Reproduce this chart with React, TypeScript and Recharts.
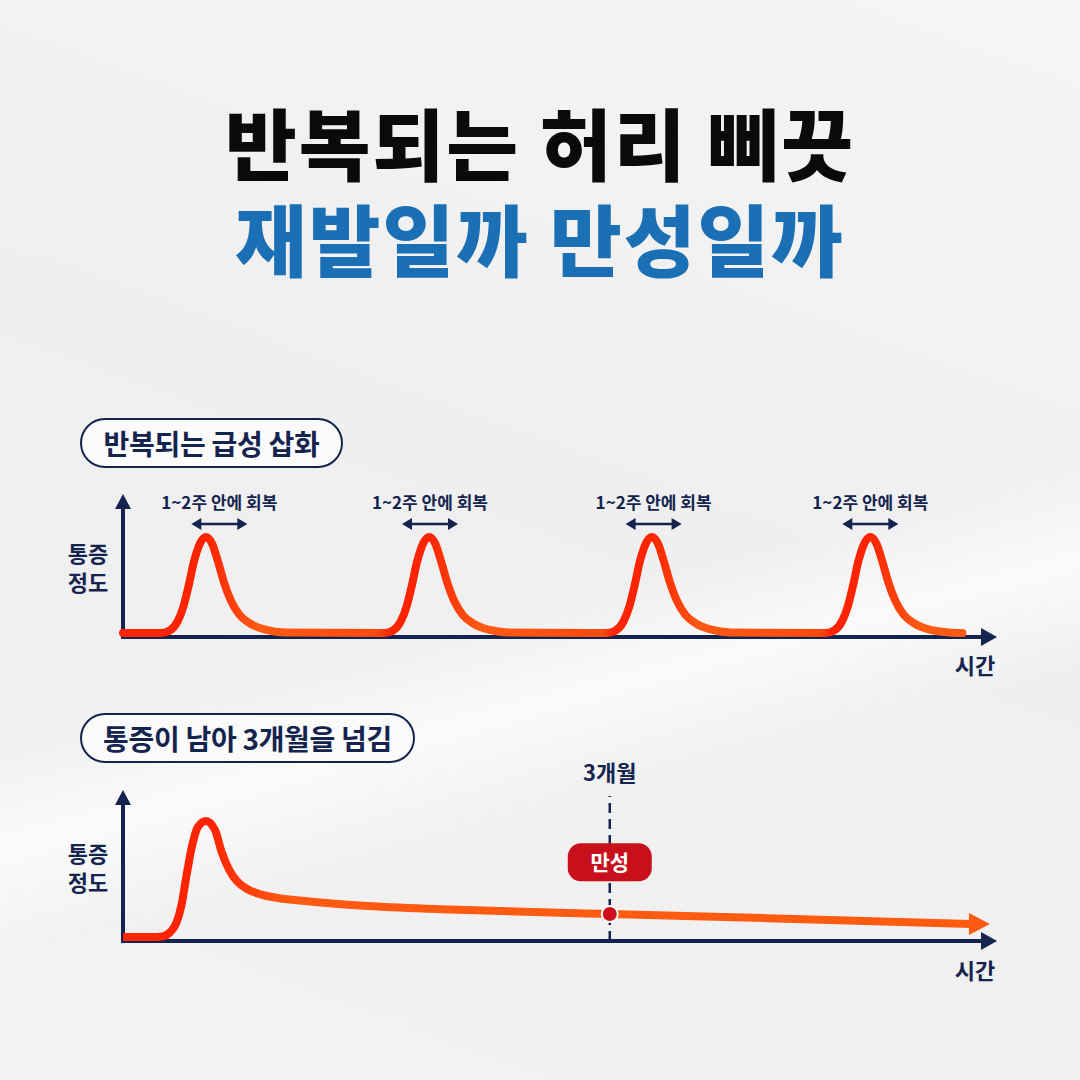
import { LineChart, Line, XAxis, YAxis, ReferenceDot, ReferenceLine } from "recharts";

const NAVY = "#15244f";
const RED = "#ff2400";
const ORANGE = "#ff5a14";
const FONT = "'Noto Sans CJK KR', 'Noto Sans', sans-serif";

// repeated acute flare-ups (time 0..100, pain 0..100)
const acuteT = [
  0,
  4.45, 5.45, 6.35, 7.05, 7.65, 8.25, 8.95, 9.65, 10.35, 11.05, 11.75, 12.55, 13.55, 14.75, 16.55, 18.85,
  30.4, 31.4, 32.3, 33.0, 33.6, 34.2, 34.9, 35.6, 36.3, 37.0, 37.7, 38.5, 39.5, 40.7, 42.5, 44.8,
  56.3, 57.3, 58.2, 58.9, 59.5, 60.1, 60.8, 61.5, 62.2, 62.9, 63.6, 64.4, 65.4, 66.6, 68.4, 70.7,
  81.7, 82.7, 83.6, 84.3, 84.9, 85.5, 86.2, 86.9, 87.6, 88.3, 89.0, 89.8, 90.8, 92.0, 93.8, 96.1,
  97.6,
];
const acutePain = [
  3,
  3, 5, 12, 24, 40, 58, 72, 77, 72, 58, 42, 28, 17, 10.5, 5.6, 3.5,
  3, 5, 12, 24, 40, 58, 72, 77, 72, 58, 42, 28, 17, 10.5, 5.6, 3.5,
  3, 5, 12, 24, 40, 58, 72, 77, 72, 58, 42, 28, 17, 10.5, 5.6, 3.5,
  3, 5, 12, 24, 40, 58, 72, 77, 72, 58, 42, 28, 17, 10.5, 5.6, 3.5,
  3,
];
const recoveryMarks = [11.2, 35.7, 61.7, 86.9];
const recoveryLabel = "1~2주 안에 회복";

// pain that stays past 3 months
const chronicT = [
  0, 3.4, 4.6, 5.5, 6.2, 6.8, 7.4, 8.0, 8.7, 9.65, 10.7, 11.5, 12.4, 13.3, 14.5, 16, 18, 20.5, 24, 29,
  38, 50.8, 56.6, 75, 98.6,
];
const chronicPain = [
  2.9, 2.9, 3.3, 6.5, 13, 26, 48, 68, 82.6, 87, 80.4, 64, 51, 43, 37.5, 33.8, 31.2, 29.3, 27.3, 25.2,
  22.8, 20.4, 19.6, 16.5, 12.3,
];
const chronicPoint = { t: 56.6, pain: 19.6 };
const chronicMonthLabel = "3개월";
const chronicBadge = "만성";

const titleLines = ["반복되는 허리 삐끗", "재발일까 만성일까"];
const panelTitles = ["반복되는 급성 삽화", "통증이 남아 3개월을 넘김"];
const yLabel = ["통증", "정도"];
const xLabel = "시간";

const acuteData = acuteT.map((t, i) => ({ t, pain: acutePain[i] }));
const chronicData = chronicT.map((t, i) => ({ t, pain: chronicPain[i] }));

const XArrow = (p: any) => (
  <polygon points={`${p.cx - 2},${p.cy - 9} ${p.cx + 14},${p.cy} ${p.cx - 2},${p.cy + 9}`} fill={NAVY} />
);
const YArrow = (p: any) => (
  <polygon points={`${p.cx - 8},${p.cy + 2} ${p.cx},${p.cy - 13} ${p.cx + 8},${p.cy + 2}`} fill={NAVY} />
);

const RecoveryMark = (p: any) => {
  const { cx, cy } = p;
  return (
    <g>
      <text x={cx} y={cy - 15} textAnchor="middle" fontSize={17} fontWeight={700} fill={NAVY}>
        {recoveryLabel}
      </text>
      <line x1={cx - 20} x2={cx + 20} y1={cy} y2={cy} stroke={NAVY} strokeWidth={2.5} />
      <polygon points={`${cx - 28},${cy} ${cx - 18},${cy - 6} ${cx - 18},${cy + 6}`} fill={NAVY} />
      <polygon points={`${cx + 28},${cy} ${cx + 18},${cy - 6} ${cx + 18},${cy + 6}`} fill={NAVY} />
    </g>
  );
};

const MonthLabel = (p: any) => (
  <text x={p.cx} y={p.cy + 8} textAnchor="middle" fontSize={22} fontWeight={700} fill={NAVY}>
    {chronicMonthLabel}
  </text>
);

const Badge = (p: any) => (
  <g>
    <rect x={p.cx - 42} y={p.cy - 19} width={84} height={38} rx={13} fill="#c8101d" />
    <text x={p.cx} y={p.cy + 8} textAnchor="middle" fontSize={21} fontWeight={700} fill="#ffffff">
      {chronicBadge}
    </text>
  </g>
);

const LineArrow = (p: any) => (
  <polygon points={`${p.cx - 2},${p.cy - 11} ${p.cx + 19},${p.cy} ${p.cx - 2},${p.cy + 11}`} fill={ORANGE} />
);

const Pill = ({ text, left, top, width }: { text: string; left: number; top: number; width: number }) => (
  <div
    style={{
      position: "absolute",
      left,
      top,
      width,
      height: 50,
      boxSizing: "border-box",
      border: `2.5px solid ${NAVY}`,
      borderRadius: 25,
      background: "#fbfbfc",
      display: "flex",
      alignItems: "center",
      justifyContent: "center",
      fontSize: 28,
      fontWeight: 700,
      color: NAVY,
      letterSpacing: -0.3,
    }}
  >
    {text}
  </div>
);

const AxisText = ({ left, top, lines }: { left: number; top: number; lines: string[] }) => (
  <div
    style={{
      position: "absolute",
      left,
      top,
      width: 60,
      textAlign: "center",
      fontSize: 22,
      fontWeight: 600,
      lineHeight: "29px",
      color: NAVY,
    }}
  >
    {lines.map((l) => (
      <div key={l}>{l}</div>
    ))}
  </div>
);

export default function App() {
  return (
    <div
      style={{
        position: "absolute",
        left: 0,
        top: 0,
        width: 1080,
        height: 1080,
        overflow: "hidden",
        fontFamily: FONT,
        background:
          "linear-gradient(165deg, rgba(255,255,255,0) 55%, rgba(255,255,255,0.7) 62%, rgba(255,255,255,0) 70%), linear-gradient(200deg, #f5f5f6 0%, #efeff0 45%, #f2f2f3 100%)",
      }}
    >
      {titleLines.map((t, i) => (
        <div
          key={t}
          style={{
            position: "absolute",
            left: 0,
            top: i === 0 ? 96 : 192,
            width: 1080,
            textAlign: "center",
            fontSize: 78,
            lineHeight: "90px",
            fontWeight: 900,
            letterSpacing: 2,
            color: i === 0 ? "#0a0a0a" : "#1a6fb5",
          }}
        >
          {t}
        </div>
      ))}

      <Pill text={panelTitles[0]} left={80} top={418} width={263} />
      <Pill text={panelTitles[1]} left={80} top={713} width={335} />

      <AxisText left={58} top={538} lines={yLabel} />
      <AxisText left={58} top={838} lines={yLabel} />
      <AxisText left={945} top={650} lines={[xLabel]} />
      <AxisText left={945} top={955} lines={[xLabel]} />

      <div style={{ position: "absolute", left: 0, top: 470 }}>
        <LineChart width={1080} height={200} data={acuteData} margin={{ top: 37, right: 97, bottom: 33, left: 123 }}>
          <defs>
            <linearGradient id="acuteGrad" gradientUnits="userSpaceOnUse" x1={123} y1={0} x2={962} y2={0}>
              <stop offset="0" stopColor={RED} />
              <stop offset="0.1" stopColor={RED} />
              <stop offset="0.16" stopColor={ORANGE} />
              <stop offset="0.3" stopColor="#ff4a10" />
              <stop offset="0.32" stopColor={RED} />
              <stop offset="0.365" stopColor={RED} />
              <stop offset="0.425" stopColor={ORANGE} />
              <stop offset="0.57" stopColor="#ff4a10" />
              <stop offset="0.585" stopColor={RED} />
              <stop offset="0.63" stopColor={RED} />
              <stop offset="0.69" stopColor={ORANGE} />
              <stop offset="0.83" stopColor="#ff4a10" />
              <stop offset="0.845" stopColor={RED} />
              <stop offset="0.89" stopColor={RED} />
              <stop offset="0.95" stopColor={ORANGE} />
              <stop offset="1" stopColor={ORANGE} />
            </linearGradient>
          </defs>
          <XAxis type="number" dataKey="t" domain={[0, 100]} hide />
          <YAxis type="number" domain={[0, 100]} hide />
          <ReferenceLine
            segment={[
              { x: 0, y: 0 },
              { x: 100, y: 0 },
            ]}
            stroke={NAVY}
            strokeWidth={4}
            ifOverflow="visible"
          />
          <ReferenceLine
            segment={[
              { x: 0, y: -1.5 },
              { x: 0, y: 100 },
            ]}
            stroke={NAVY}
            strokeWidth={4}
            ifOverflow="visible"
          />
          <Line
            type="monotone"
            dataKey="pain"
            stroke="url(#acuteGrad)"
            strokeWidth={8}
            strokeLinecap="round"
            dot={false}
            activeDot={false}
            isAnimationActive={false}
          />
          <ReferenceDot x={100} y={0} r={1} ifOverflow="visible" shape={XArrow} />
          <ReferenceDot x={0} y={100} r={1} ifOverflow="visible" shape={YArrow} />
          {recoveryMarks.map((m) => (
            <ReferenceDot key={m} x={m} y={87} r={1} ifOverflow="visible" shape={RecoveryMark} />
          ))}
        </LineChart>
      </div>

      <div style={{ position: "absolute", left: 0, top: 740 }}>
        <LineChart width={1080} height={230} data={chronicData} margin={{ top: 63, right: 97, bottom: 29, left: 123 }}>
          <defs>
            <linearGradient id="chronicGrad" gradientUnits="userSpaceOnUse" x1={123} y1={0} x2={983} y2={0}>
              <stop offset="0" stopColor={RED} />
              <stop offset="0.1" stopColor={RED} />
              <stop offset="0.19" stopColor={ORANGE} />
              <stop offset="1" stopColor="#ff5c10" />
            </linearGradient>
          </defs>
          <XAxis type="number" dataKey="t" domain={[0, 100]} hide allowDataOverflow />
          <YAxis type="number" domain={[0, 100]} hide />
          <ReferenceLine
            segment={[
              { x: 0, y: 0 },
              { x: 100, y: 0 },
            ]}
            stroke={NAVY}
            strokeWidth={4}
            ifOverflow="visible"
          />
          <ReferenceLine
            segment={[
              { x: 0, y: -1.5 },
              { x: 0, y: 100 },
            ]}
            stroke={NAVY}
            strokeWidth={4}
            ifOverflow="visible"
          />
          <ReferenceLine
            segment={[
              { x: chronicPoint.t, y: 0 },
              { x: chronicPoint.t, y: 105 },
            ]}
            stroke={NAVY}
            strokeWidth={2.5}
            strokeDasharray="10 6"
            ifOverflow="visible"
          />
          <Line
            type="monotone"
            dataKey="pain"
            stroke="url(#chronicGrad)"
            strokeWidth={8}
            strokeLinecap="round"
            dot={false}
            activeDot={false}
            isAnimationActive={false}
          />
          <ReferenceDot x={98.6} y={12.3} r={1} ifOverflow="visible" shape={LineArrow} />
          <ReferenceDot x={100} y={0} r={1} ifOverflow="visible" shape={XArrow} />
          <ReferenceDot x={0} y={100} r={1} ifOverflow="visible" shape={YArrow} />
          <ReferenceDot x={chronicPoint.t} y={57} r={1} ifOverflow="visible" shape={Badge} />
          <ReferenceDot x={chronicPoint.t} y={122} r={1} ifOverflow="visible" shape={MonthLabel} />
          <ReferenceDot
            x={chronicPoint.t}
            y={chronicPoint.pain}
            r={8}
            fill="#d0101c"
            stroke="#ffffff"
            strokeWidth={2}
            ifOverflow="visible"
          />
        </LineChart>
      </div>
    </div>
  );
}
